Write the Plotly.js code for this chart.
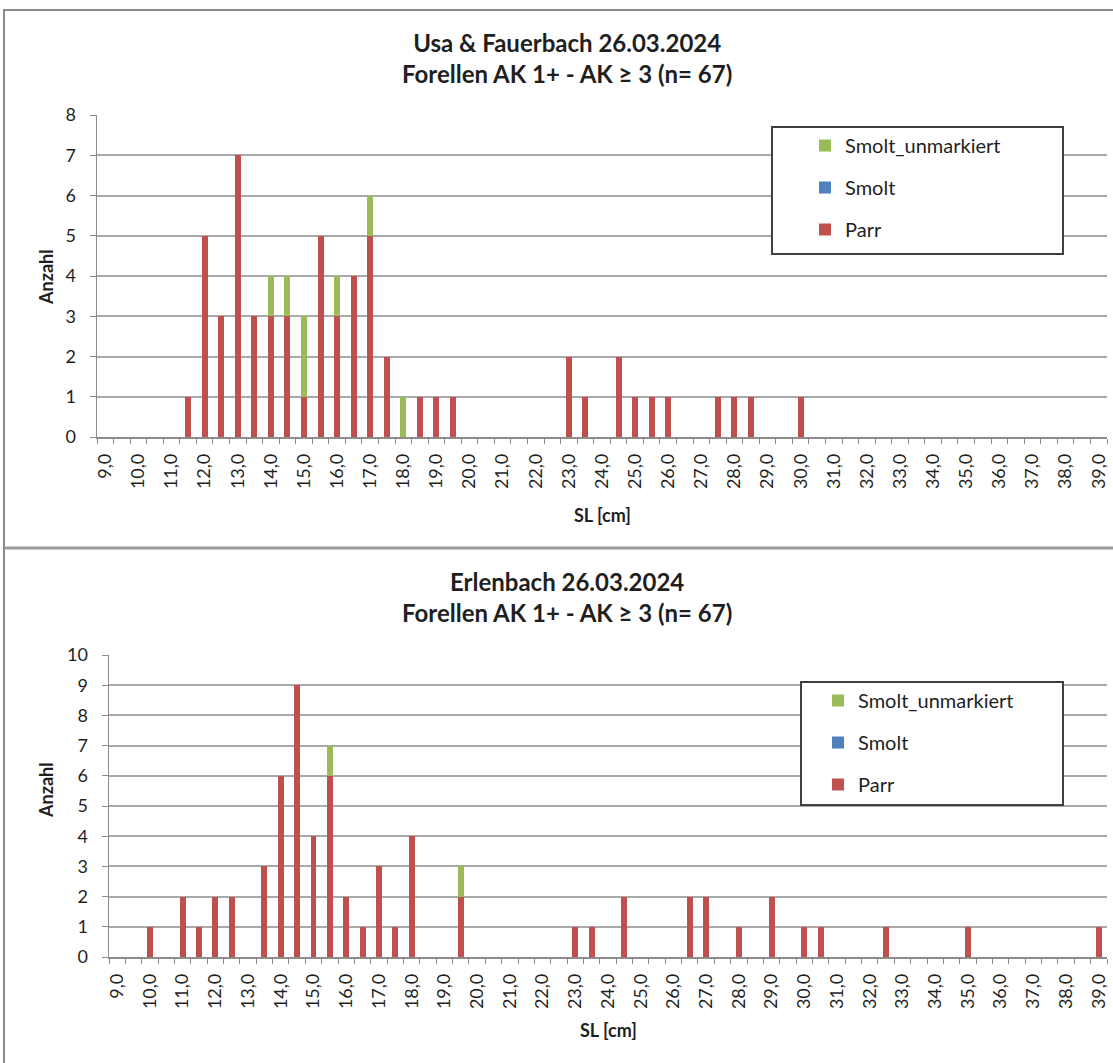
<!DOCTYPE html>
<html>
<head>
<meta charset="utf-8">
<script src="https://cdn.plot.ly/plotly-3.0.1.min.js"></script>
<style>html,body{margin:0;padding:0;background:#fff;}#chart{width:1113px;height:1063px;}</style>
</head>
<body>
<div id="chart"></div>
<script>
// ---- Data (SL in cm, counts) ----
const seriesNames = ["Parr", "Smolt", "Smolt_unmarkiert"];

const titleTop = "Usa & Fauerbach 26.03.2024<br>Forellen AK 1+ - AK ≥ 3 (n= 67)";
const xTop = [11.5, 12, 12.5, 13, 13.5, 14, 14.5, 15, 15.5, 16, 16.5, 17, 17.5, 18, 18.5, 19, 19.5,
              23, 23.5, 24.5, 25, 25.5, 26, 27.5, 28, 28.5, 30];
const parrTop = [1, 5, 3, 7, 3, 3, 3, 1, 5, 3, 4, 5, 2, 0, 1, 1, 1,
                 2, 1, 2, 1, 1, 1, 1, 1, 1, 1];
const smoltTop = [0, 0, 0, 0, 0, 0, 0, 0, 0, 0, 0, 0, 0, 0, 0, 0, 0,
                  0, 0, 0, 0, 0, 0, 0, 0, 0, 0];
const smoltUnTop = [0, 0, 0, 0, 0, 1, 1, 2, 0, 1, 0, 1, 0, 1, 0, 0, 0,
                    0, 0, 0, 0, 0, 0, 0, 0, 0, 0];

const titleBot = "Erlenbach 26.03.2024<br>Forellen AK 1+ - AK ≥ 3 (n= 67)";
const xBot = [10, 11, 11.5, 12, 12.5, 13.5, 14, 14.5, 15, 15.5, 16, 16.5, 17, 17.5, 18, 19.5,
              23, 23.5, 24.5, 26.5, 27, 28, 29, 30, 30.5, 32.5, 35, 39];
const parrBot = [1, 2, 1, 2, 2, 3, 6, 9, 4, 6, 2, 1, 3, 1, 4, 2,
                 1, 1, 2, 2, 2, 1, 2, 1, 1, 1, 1, 1];
const smoltBot = [0, 0, 0, 0, 0, 0, 0, 0, 0, 0, 0, 0, 0, 0, 0, 0,
                  0, 0, 0, 0, 0, 0, 0, 0, 0, 0, 0, 0];
const smoltUnBot = [0, 0, 0, 0, 0, 0, 0, 0, 0, 1, 0, 0, 0, 0, 0, 1,
                    0, 0, 0, 0, 0, 0, 0, 0, 0, 0, 0, 0];

const xTitle = "SL [cm]";
const yTitle = "Anzahl";

// ---- Styling ----
const W = 1113, H = 1063;
const px = v => v / W;
const py = v => 1 - v / H;
const FONT = "Lato, 'Liberation Sans', Arial, sans-serif";
const TXT = "#1f1f1f";
const colors = {"Parr": "#c0504d", "Smolt": "#4f81bd", "Smolt_unmarkiert": "#9bbb59"};
const ranks = {"Smolt_unmarkiert": 1, "Smolt": 2, "Parr": 3};
const BARW = 0.18;

function mkTraces(xs, parr, smolt, smoltUn, xa, ya, leg) {
  const vals = {"Parr": parr, "Smolt": smolt, "Smolt_unmarkiert": smoltUn};
  return seriesNames.map(n => ({
    type: "bar", name: n, x: xs, y: vals[n], xaxis: xa, yaxis: ya,
    width: BARW, marker: {color: colors[n], line: {width: 0}},
    legend: leg, legendgroup: leg + "_" + n, legendrank: ranks[n], hoverinfo: "skip"
  }));
}

const traces = [].concat(
  mkTraces(xTop, parrTop, smoltTop, smoltUnTop, "x", "y", "legend"),
  mkTraces(xBot, parrBot, smoltBot, smoltUnBot, "x2", "y2", "legend2")
);

function xAxis(domain, anchor) {
  return {
    domain: domain, anchor: anchor, type: "linear", range: [8.75, 39.25],
    tickmode: "linear", tick0: 9, dtick: 1, tickformat: ".1f", tickangle: -90,
    ticks: "", showgrid: false, zeroline: false,
    showline: true, linecolor: "#8c8c8c", linewidth: 1.5,
    tickfont: {family: FONT, size: 18, color: TXT},
    ticklabelstandoff: 8,
    minor: {ticks: "outside", tick0: 8.75, dtick: 0.5, ticklen: 5, tickcolor: "#8c8c8c", tickwidth: 1, showgrid: false}
  };
}
function yAxis(domain, anchor, maxv) {
  return {
    domain: domain, anchor: anchor, range: [0, maxv], tickmode: "linear", tick0: 0, dtick: 1,
    showgrid: true, gridcolor: "#a9a9a9", gridwidth: 2, zeroline: false,
    showline: true, linecolor: "#8c8c8c", linewidth: 1.5,
    ticks: "outside", ticklen: 6, tickcolor: "#8c8c8c",
    tickfont: {family: FONT, size: 18, color: TXT},
    ticklabelstandoff: 10
  };
}

const legendFont = {family: FONT, size: 20, color: TXT};

const layout = {
  width: W, height: H,
  margin: {l: 0, r: 0, t: 0, b: 0},
  paper_bgcolor: "#ffffff", plot_bgcolor: "#ffffff",
  separators: ",.",
  barmode: "stack",
  font: {family: FONT, color: TXT},
  showlegend: true,
  xaxis: xAxis([px(97), px(1107)], "y"),
  yaxis: yAxis([py(437), py(115)], "x", 8),
  xaxis2: xAxis([px(109), px(1107)], "y2"),
  yaxis2: yAxis([py(957), py(655)], "x2", 10),
  legend: {
    x: px(805), y: py(126), xanchor: "left", yanchor: "top",
    bgcolor: "rgba(0,0,0,0)", borderwidth: 0, traceorder: "grouped",
    tracegroupgap: 13, font: legendFont
  },
  legend2: {
    x: px(818), y: py(681), xanchor: "left", yanchor: "top",
    bgcolor: "rgba(0,0,0,0)", borderwidth: 0, traceorder: "grouped",
    tracegroupgap: 13, font: legendFont
  },
  annotations: [
    {text: "<b>" + titleTop.replace("<br>", "</b><br><b>") + "</b>", xref: "paper", yref: "paper",
     x: px(567), y: py(58), xanchor: "center", yanchor: "middle", showarrow: false,
     font: {family: FONT, size: 24, color: TXT}, align: "center"},
    {text: "<b>" + titleBot.replace("<br>", "</b><br><b>") + "</b>", xref: "paper", yref: "paper",
     x: px(567), y: py(597), xanchor: "center", yanchor: "middle", showarrow: false,
     font: {family: FONT, size: 24, color: TXT}, align: "center"},
    {text: "<b>" + xTitle + "</b>", xref: "paper", yref: "paper", x: px(602), y: py(515),
     xanchor: "center", yanchor: "middle", showarrow: false, font: {family: FONT, size: 18, color: TXT}},
    {text: "<b>" + xTitle + "</b>", xref: "paper", yref: "paper", x: px(608), y: py(1030),
     xanchor: "center", yanchor: "middle", showarrow: false, font: {family: FONT, size: 18, color: TXT}},
    {text: "<b>" + yTitle + "</b>", xref: "paper", yref: "paper", x: px(46), y: py(277), textangle: -90,
     xanchor: "center", yanchor: "middle", showarrow: false, font: {family: FONT, size: 18, color: TXT}},
    {text: "<b>" + yTitle + "</b>", xref: "paper", yref: "paper", x: px(46), y: py(790), textangle: -90,
     xanchor: "center", yanchor: "middle", showarrow: false, font: {family: FONT, size: 18, color: TXT}}
  ],
  shapes: [
    // outer chart frames
    {type: "rect", xref: "paper", yref: "paper", x0: px(4), x1: px(1116), y0: py(548), y1: py(10),
     line: {color: "#8a8a8a", width: 2}, layer: "below"},
    {type: "rect", xref: "paper", yref: "paper", x0: px(4), x1: px(1116), y0: py(1070), y1: py(548),
     line: {color: "#8a8a8a", width: 2}, layer: "below"},
    {type: "line", xref: "paper", yref: "paper", x0: px(4), x1: px(1113), y0: py(548), y1: py(548),
     line: {color: "#9a9a9a", width: 3}},
    // legend frames
    {type: "rect", xref: "paper", yref: "paper", x0: px(772), x1: px(1063), y0: py(254), y1: py(127),
     line: {color: "#404040", width: 2}, fillcolor: "#ffffff", layer: "above"},
    {type: "rect", xref: "paper", yref: "paper", x0: px(801), x1: px(1063), y0: py(805), y1: py(682),
     line: {color: "#404040", width: 2}, fillcolor: "#ffffff", layer: "above"}
  ]
};

Plotly.newPlot("chart", traces, layout, {staticPlot: true, displayModeBar: false});
</script>
</body>
</html>
